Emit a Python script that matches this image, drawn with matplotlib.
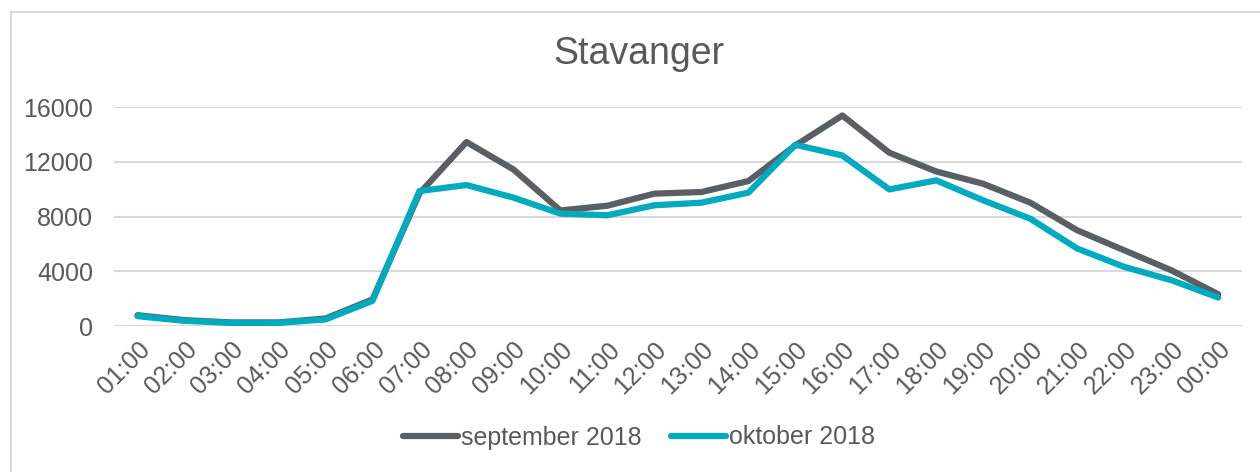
import matplotlib.pyplot as plt
from matplotlib.patches import Rectangle

plt.rcParams['font.family'] = ['Liberation Sans', 'DejaVu Sans']

hours = ['01:00', '02:00', '03:00', '04:00', '05:00', '06:00', '07:00', '08:00',
         '09:00', '10:00', '11:00', '12:00', '13:00', '14:00', '15:00', '16:00',
         '17:00', '18:00', '19:00', '20:00', '21:00', '22:00', '23:00', '00:00']
sep_2018 = [800, 440, 270, 270, 560, 1950, 9700, 13450, 11450, 8450, 8800, 9680,
            9800, 10600, 13200, 15390, 12670, 11300, 10400, 9020, 7000, 5540, 4085, 2330]
okt_2018 = [730, 390, 240, 240, 490, 1850, 9870, 10310, 9390, 8220, 8100, 8830,
            9020, 9750, 13250, 12470, 9990, 10650, 9190, 7850, 5670, 4330, 3360, 2090]

txt = '#595959'
fig = plt.figure(figsize=(12.6, 4.72), dpi=100)
ax = fig.add_axes([0.0905, 0.309, 0.895, 0.464])

x = range(len(hours))
ax.plot(x, sep_2018, color='#5a5f64', lw=4.5, label='september 2018', solid_capstyle='round')
ax.plot(x, okt_2018, color='#00abc0', lw=4.5, label='oktober 2018', solid_capstyle='round')

ax.set_xlim(-0.5, len(hours) - 0.5)
ax.set_ylim(0, 16000)
ax.set_yticks([0, 4000, 8000, 12000, 16000])
ax.set_xticks(list(x))
ax.set_xticklabels(hours, rotation=45, ha='right', rotation_mode='anchor')
ax.tick_params(axis='both', length=0, labelsize=18, colors=txt)
ax.tick_params(axis='y', pad=15)
ax.tick_params(axis='x', pad=8)
ax.grid(axis='y', color='#d9d9d9', lw=1.5)
ax.set_axisbelow(True)
for s in ax.spines.values():
    s.set_visible(False)

fig.text(0.507, 0.885, 'Stavanger', fontsize=27, color=txt, ha='center', va='center')

fig.legend(loc='lower center', bbox_to_anchor=(0.507, 0.0), ncol=2, frameon=False,
           fontsize=18, labelcolor=txt, handlelength=2.2, handletextpad=0.1, columnspacing=1.2)

fig.patches.append(Rectangle((0.009, -0.01), 1.0, 0.985, transform=fig.transFigure,
                             fill=False, edgecolor='#d9d9d9', lw=1.5))

fig.savefig('out.png')
